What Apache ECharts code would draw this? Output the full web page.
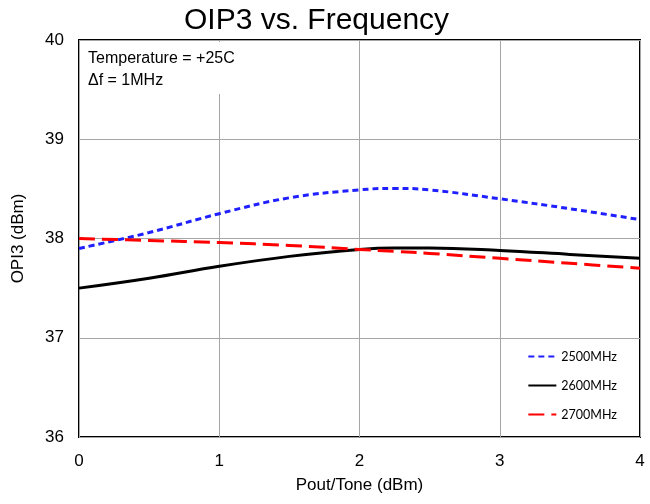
<!DOCTYPE html>
<html><head><meta charset="utf-8">
<script src="https://cdn.jsdelivr.net/npm/echarts@6/dist/echarts.min.js"></script>
<style>html,body{margin:0;padding:0;background:#fff}#c{width:650px;height:504px}</style>
</head><body><div id="c"></div>
<script>
const xValues = [0, 0.5, 1, 1.5, 2, 2.25, 2.5, 3, 3.5, 4];
const s2500 = [37.90, 38.06, 38.25, 38.41, 38.49, 38.505, 38.49, 38.40, 38.30, 38.19];
const s2600 = [37.50, 37.60, 37.72, 37.82, 37.89, 37.905, 37.905, 37.88, 37.84, 37.80];
const s2700 = [38.00, 37.98, 37.96, 37.93, 37.89, 37.87, 37.85, 37.80, 37.75, 37.70];
const seriesNames = ['2500MHz', '2600MHz', '2700MHz'];

const pair = a => xValues.map((x, i) => [x, a[i]]);
const font = "'Liberation Sans', Arial, sans-serif";
const chart = echarts.init(document.getElementById('c'));
chart.setOption({
  animation: false,
  title: { text: 'OIP3 vs. Frequency', left: 179, top: 1,
    textStyle: { fontFamily: font, fontSize: 30, fontWeight: 'normal', color: '#000' } },
  grid: { left: 79, right: 10, top: 40, bottom: 67, show: true, borderColor: '#000', borderWidth: 2, backgroundColor: 'transparent' },
  xAxis: { type: 'value', min: 0, max: 4, interval: 1,
    name: 'Pout/Tone (dBm)', nameLocation: 'middle', nameGap: 40,
    nameTextStyle: { fontFamily: font, fontSize: 17, color: '#000' },
    axisLine: { show: false }, axisTick: { show: false },
    axisLabel: { fontFamily: font, fontSize: 17, color: '#000', margin: 16 },
    splitLine: { show: true, lineStyle: { color: '#a6a6a6', width: 1 } } },
  yAxis: { type: 'value', min: 36, max: 40, interval: 1,
    name: 'OPI3 (dBm)', nameLocation: 'middle', nameGap: 52,
    nameTextStyle: { fontFamily: font, fontSize: 17, color: '#000' },
    axisLine: { show: false }, axisTick: { show: false },
    axisLabel: { fontFamily: font, fontSize: 17, color: '#000', margin: 15 },
    splitLine: { show: true, lineStyle: { color: '#a6a6a6', width: 1 } } },
  legend: { orient: 'vertical', right: 28, top: 345, itemGap: 16, itemWidth: 28, itemHeight: 12,
    itemStyle: { opacity: 0 },
    textStyle: { fontFamily: "Lato, 'Open Sans', sans-serif", fontSize: 12.5, color: '#000' },
    data: seriesNames },
  graphic: [{ type: 'rect', left: 80, top: 42, shape: { width: 215, height: 52 }, style: { fill: '#fff' }, z: 50 },
    { type: 'text', left: 88, top: 48, z: 51,
      style: { text: 'Temperature = +25C\nΔf = 1MHz', font: "16px 'Liberation Sans', Arial, sans-serif", fill: '#000', lineHeight: 22 } }],
  series: [
    { name: seriesNames[0], type: 'line', smooth: 0.4, symbol: 'none', data: pair(s2500),
      lineStyle: { color: '#1f1fff', width: 3, type: [6, 4] }, itemStyle: { color: '#1f1fff' } },
    { name: seriesNames[1], type: 'line', smooth: 0.4, symbol: 'none', data: pair(s2600),
      lineStyle: { color: '#000', width: 3, type: 'solid' }, itemStyle: { color: '#000' } },
    { name: seriesNames[2], type: 'line', smooth: 0.4, symbol: 'none', data: pair(s2700),
      lineStyle: { color: '#ff0000', width: 3, type: [16, 7] }, itemStyle: { color: '#ff0000' } }
  ]
});
</script></body></html>
